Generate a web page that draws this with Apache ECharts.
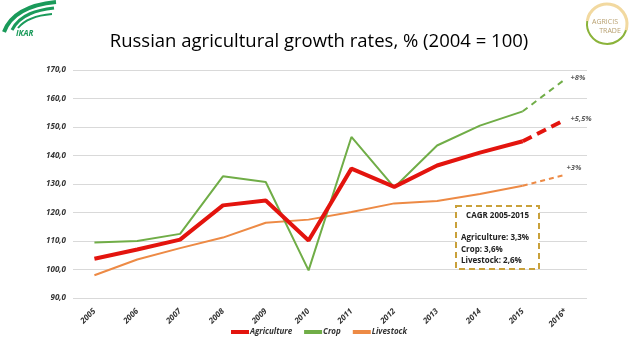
<!DOCTYPE html>
<html><head><meta charset="utf-8">
<script src="https://cdn.jsdelivr.net/npm/echarts@6/dist/echarts.min.js"></script>
<style>html,body{margin:0;padding:0;background:#fff}#c{width:638px;height:359px}</style>
</head><body><div id="c"></div>
<script>
const categories = ['2005','2006','2007','2008','2009','2010','2011','2012','2013','2014','2015','2016*'];
const agriculture = [103.8,107,110.5,122.5,124.2,110.2,135.4,129,136.5,141,145,152.6];
const crop = [109.5,110,112.5,132.7,130.7,99.7,146.5,128.8,143.5,150.5,155.5,166.9];
const livestock = [98,103.5,107.5,111.2,116.4,117.5,120.2,123.2,124,126.5,129.4,133.3];
const yTicks = [90,100,110,120,130,140,150,160,170];
const growthLabels = ['+5,5%','+8%','+3%'];
const cagrLines = ['CAGR 2005-2015','Agriculture: 3,3%','Crop: 3,6%','Livestock: 2,6%'];

const RED='#e3140e', GREEN='#70ad47', ORANGE='#ed8a45';
const last = categories.length-1;
function solid(a){return a.map((v,i)=>i<last?v:null);}
function dashed(a){return a.map((v,i)=>i>=last-1?v:null);}
const font='"Open Sans", "Liberation Sans", sans-serif';

const chart = echarts.init(document.getElementById('c'));
const labelStyle = {fontFamily:font,fontStyle:'italic',fontWeight:'bold',fontSize:8,color:'#333'};
chart.setOption({
  animation:false,
  title:{text:'Russian agricultural growth rates, % (2004 = 100)',left:'center',top:27,
    textStyle:{fontFamily:font,fontSize:18.5,fontWeight:'normal',color:'#000'}},
  grid:{left:73,right:51,top:70,bottom:61,containLabel:false},
  legend:{bottom:18,left:'center',itemWidth:18,itemHeight:4,itemGap:12,icon:'rect',
    data:['Agriculture','Crop','Livestock'],
    textStyle:{fontFamily:font,fontStyle:'italic',fontWeight:'bold',fontSize:8,color:'#333',padding:[0,0,0,-4]}},
  xAxis:{type:'category',data:categories,boundaryGap:true,
    axisLine:{show:false},axisTick:{show:false},
    axisLabel:Object.assign({rotate:45,margin:12,interval:0},labelStyle)},
  yAxis:{type:'value',min:90,max:170,interval:10,
    axisLine:{show:false},axisTick:{show:false},
    splitLine:{lineStyle:{color:'#d9d9d9',width:1}},
    axisLabel:Object.assign({margin:7,formatter:v=>v.toFixed(1).replace('.',',')},labelStyle)},
  series:[
    {name:'Livestock',type:'line',data:solid(livestock),symbol:'none',lineStyle:{color:ORANGE,width:2},itemStyle:{color:ORANGE},z:2},
    {name:'Livestock',type:'line',data:dashed(livestock),symbol:'none',lineStyle:{color:ORANGE,width:2,type:[5,4]},itemStyle:{color:ORANGE},z:2},
    {name:'Crop',type:'line',data:solid(crop),symbol:'none',lineStyle:{color:GREEN,width:2},itemStyle:{color:GREEN},z:3},
    {name:'Crop',type:'line',data:dashed(crop),symbol:'none',lineStyle:{color:GREEN,width:2,type:[6,5]},itemStyle:{color:GREEN},z:3},
    {name:'Agriculture',type:'line',data:solid(agriculture),symbol:'none',lineStyle:{color:RED,width:4},itemStyle:{color:RED},z:4},
    {name:'Agriculture',type:'line',data:dashed(agriculture),symbol:'none',lineStyle:{color:RED,width:4,type:[10,6]},itemStyle:{color:RED},z:4},
    {type:'scatter',symbolSize:0,silent:true,z:5,
      data:[[last,agriculture[last]],[last,crop[last]],[last,livestock[last]]],
      label:{show:true,position:'right',distance:0,formatter:p=>growthLabels[p.dataIndex],
        fontFamily:font,fontStyle:'italic',fontWeight:'bold',fontSize:7.5,color:'#333'},
      labelLayout:(p)=>({dx:[5,5,1][p.dataIndex],dy:[-1,-1,-7][p.dataIndex]})}
  ],
  graphic:[
    {type:'rect',shape:{x:456,y:206,width:83,height:63},style:{fill:'#fff',stroke:'#c9a13b',lineWidth:2,lineDash:[6,4]},z:10},
    {type:'text',x:497.5,y:216,style:{text:cagrLines[0],align:'center',verticalAlign:'middle',font:'bold 8px '+font,fill:'#222'},z:11},
    {type:'text',x:461,y:238,style:{text:cagrLines[1],verticalAlign:'middle',font:'bold 8px '+font,fill:'#222'},z:11},
    {type:'text',x:461,y:249.5,style:{text:cagrLines[2],verticalAlign:'middle',font:'bold 8px '+font,fill:'#222'},z:11},
    {type:'text',x:461,y:261,style:{text:cagrLines[3],verticalAlign:'middle',font:'bold 8px '+font,fill:'#222'},z:11},
    // IKAR logo
    {type:'bezierCurve',shape:{x1:4,y1:32,x2:56,y2:2,cpx1:12,cpy1:10,cpx2:36,cpy2:4},style:{stroke:'#1a9a5a',lineWidth:4,fill:null}},
    {type:'bezierCurve',shape:{x1:12,y1:30,x2:54,y2:8,cpx1:20,cpy1:14,cpx2:38,cpy2:10},style:{stroke:'#1a9a5a',lineWidth:3,fill:null}},
    {type:'bezierCurve',shape:{x1:18,y1:28,x2:52,y2:14,cpx1:26,cpy1:18,cpx2:40,cpy2:15},style:{stroke:'#1a9a5a',lineWidth:2,fill:null}},
    {type:'text',x:16,y:30,style:{text:'IKAR',font:'italic bold 8px '+font,fill:'#1a9a5a'}},
    // AGRICIS TRADE logo
    {type:'arc',shape:{cx:607,cy:24,r:20,startAngle:0.2,endAngle:Math.PI*1.05},style:{stroke:'#8bb33a',lineWidth:2,fill:null}},
    {type:'arc',shape:{cx:607,cy:24,r:20,startAngle:Math.PI*1.05,endAngle:Math.PI*2.1},style:{stroke:'#f2d9a0',lineWidth:3,fill:null}},
    {type:'text',x:605,y:22,style:{text:'AGRICIS',align:'center',verticalAlign:'middle',font:'7px '+font,fill:'#b8a070'}},
    {type:'text',x:610,y:31,style:{text:'TRADE',align:'center',verticalAlign:'middle',font:'7px '+font,fill:'#b8a070'}}
  ]
});
</script></body></html>
